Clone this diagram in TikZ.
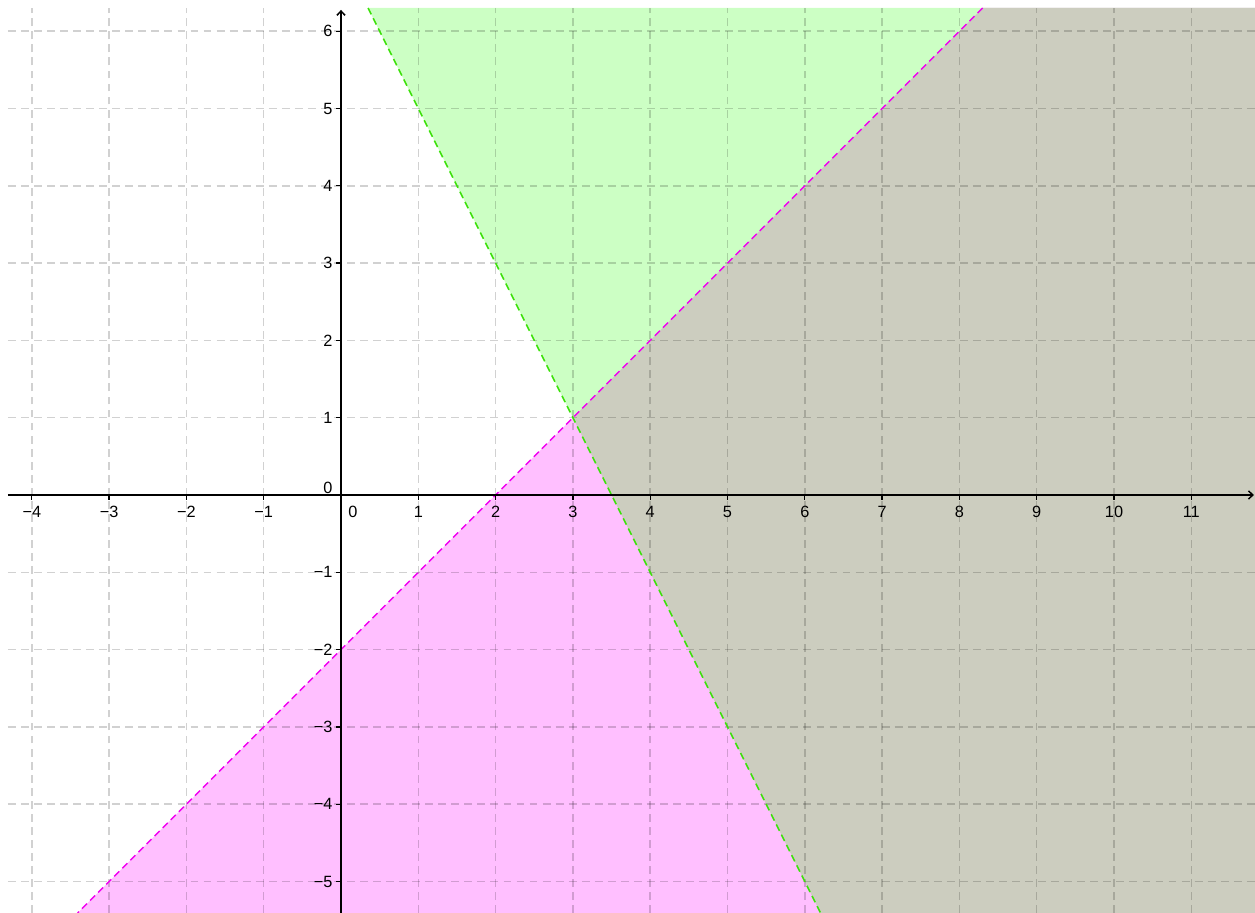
\documentclass[tikz,border=0pt]{standalone}
\usepackage{fontspec}
\setmainfont{Liberation Sans}
\usetikzlibrary{arrows.meta}
\definecolor{greenfill}{RGB}{204,255,196}
\definecolor{pinkfill}{RGB}{255,191,255}
\definecolor{bothfill}{RGB}{204,205,191}
\definecolor{greenline}{RGB}{60,225,10}
\definecolor{pinkline}{RGB}{240,0,240}
\tikzset{
  gridline/.style={line width=0.55pt, black, opacity=0.18, dash pattern=on 2.9pt off 1.9pt},
  ineq/.style={line width=0.55pt, dash pattern=on 2.6pt off 1.6pt},
  axis/.style={line width=0.55pt, black, -{Straight Barb[length=1.6pt,width=3pt]}},
  tick/.style={line width=0.5pt, black},
  lab/.style={inner sep=0pt, font=\fontsize{6}{7}\selectfont}
}
\begin{document}
\begin{tikzpicture}[x=1cm,y=1cm]
\useasboundingbox (-4.4114,-5.4075) rectangle (11.8241,6.4036);
% shaded regions
\fill[greenfill] (0.35,6.300) -- (11.8241,6.300) -- (11.8241,-5.4075) -- (6.2038,-5.4075) -- cycle;
\fill[pinkfill] (8.30,6.300) -- (11.8241,6.300) -- (11.8241,-5.4075) -- (-3.4075,-5.4075) -- cycle;
\fill[bothfill] (3,1) -- (8.30,6.300) -- (11.8241,6.300) -- (11.8241,-5.4075) -- (6.2038,-5.4075) -- cycle;
% grid
\foreach \x in {-4,-3,-2,-1,1,2,3,4,5,6,7,8,9,10,11}
  \draw[gridline] (\x,-5.4075) -- (\x,6.300);
\foreach \y in {-5,-4,-3,-2,-1,1,2,3,4,5,6}
  \draw[gridline] (-4.308,\y) -- (11.8241,\y);
% boundary lines
\draw[ineq, greenline] (0.35,6.300) -- (6.2038,-5.4075);
\draw[ineq, pinkline] (8.30,6.300) -- (-3.4075,-5.4075);
% axes
\draw[axis] (-4.308,0) -- (11.81,0);
\draw[axis] (0,-5.4075) -- (0,6.275);
% ticks and labels
\foreach \x/\t in {-4/−4,-3/−3,-2/−2,-1/−1,1/1,2/2,3/3,4/4,5/5,6/6,7/7,8/8,9/9,10/10,11/11} {
  \draw[tick] (\x,0) -- (\x,-0.07);
  \node[lab] (xl\x) at (\x,-0.22) {\t};
}
\foreach \y/\t in {-5/−5,-4/−4,-3/−3,-2/−2,-1/−1,1/1,2/2,3/3,4/4,5/5,6/6} {
  \draw[tick] (0,\y) -- (-0.07,\y);
  \node[lab, anchor=east] (yl\y) at (-0.105,\y) {\t};
}
\node[lab] (x0) at (0.155,-0.22) {0};
\node[lab] (y0) at (-0.168,0.097) {0};
\end{tikzpicture}
\end{document}
